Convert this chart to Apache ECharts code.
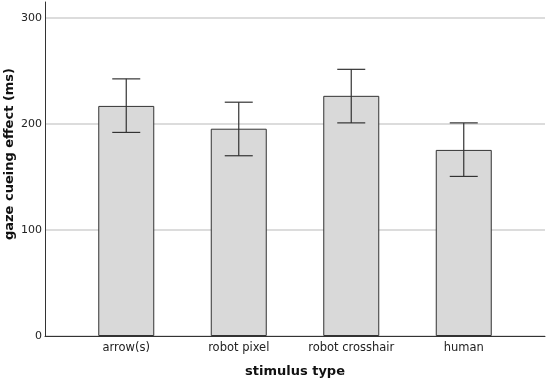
<!DOCTYPE html>
<html>
<head>
<meta charset="utf-8">
<script src="https://cdn.jsdelivr.net/npm/echarts@6/dist/echarts.min.js"></script>
<style>
html,body{margin:0;padding:0;background:#fff;}
#main{width:547px;height:381px;}
</style>
</head>
<body>
<div id="main"></div>
<script>
var categories = ['arrow(s)', 'robot pixel', 'robot crosshair', 'human'];
var means = [217, 195.5, 226.5, 175.5];
var lower = [192, 170, 201, 150.5];
var upper = [242.5, 220.5, 251.5, 201];
var yTicks = [0, 100, 200, 300];

var myChart = echarts.init(document.getElementById('main'));

var errData = [];
for (var i = 0; i < categories.length; i++) {
    errData.push([i, lower[i], upper[i]]);
}

var font = 'DejaVu Sans';

option = {
    animation: false,
    backgroundColor: '#fff',
    grid: [
        {left: 70, right: 27, top: 2, bottom: 45, outerBoundsMode: 'none', containLabel: false},
        {left: 45, right: 2, top: 2, bottom: 45, outerBoundsMode: 'none', containLabel: false}
    ],
    xAxis: [
        {
            type: 'category',
            gridIndex: 0,
            data: categories,
            axisLine: {show: false},
            axisTick: {show: false},
            axisLabel: {color: '#222', fontFamily: font, fontSize: 11.5, margin: 6},
            name: 'stimulus type',
            nameLocation: 'middle',
            nameMoveOverlap: false,
            nameGap: 29,
            nameTextStyle: {color: '#111', fontFamily: font, fontSize: 13, fontWeight: 'bold'}
        },
        {
            type: 'value',
            gridIndex: 1,
            min: 0, max: 1,
            axisLine: {show: true, lineStyle: {color: '#333', width: 1}},
            axisTick: {show: false},
            axisLabel: {show: false},
            splitLine: {show: false}
        }
    ],
    yAxis: [
        {
            type: 'value',
            gridIndex: 0,
            min: 0, max: 315,
            show: false
        },
        {
            type: 'value',
            gridIndex: 1,
            min: 0, max: 315,
            axisLine: {show: true, lineStyle: {color: '#333', width: 1}},
            axisTick: {show: false, customValues: yTicks},
            axisLabel: {customValues: yTicks, color: '#222', fontFamily: font, fontSize: 11, margin: 3},
            splitLine: {show: true, lineStyle: {color: '#d0d0d0', width: 1.5}},
            name: 'gaze cueing effect (ms)',
            nameLocation: 'middle',
            nameMoveOverlap: false,
            nameGap: 29,
            nameTextStyle: {color: '#111', fontFamily: font, fontSize: 13, fontWeight: 'bold', padding: [0, 0, 0, 30]}
        }
    ],
    series: [
        {
            type: 'bar',
            xAxisIndex: 0,
            yAxisIndex: 0,
            data: means,
            barWidth: 56,
            itemStyle: {color: '#d9d9d9', borderColor: '#333', borderWidth: 1}
        },
        {
            type: 'custom',
            xAxisIndex: 0,
            yAxisIndex: 0,
            data: errData,
            z: 10,
            renderItem: function (params, api) {
                var x = api.value(0);
                var lo = api.coord([x, api.value(1)]);
                var hi = api.coord([x, api.value(2)]);
                var hw = 14;
                var st = {stroke: '#333', lineWidth: 1.2};
                return {
                    type: 'group',
                    children: [
                        {type: 'line', shape: {x1: hi[0], y1: hi[1], x2: lo[0], y2: lo[1]}, style: st},
                        {type: 'line', shape: {x1: hi[0] - hw, y1: hi[1], x2: hi[0] + hw, y2: hi[1]}, style: st},
                        {type: 'line', shape: {x1: lo[0] - hw, y1: lo[1], x2: lo[0] + hw, y2: lo[1]}, style: st}
                    ]
                };
            }
        }
    ]
};
myChart.setOption(option, true);
</script>
</body>
</html>
